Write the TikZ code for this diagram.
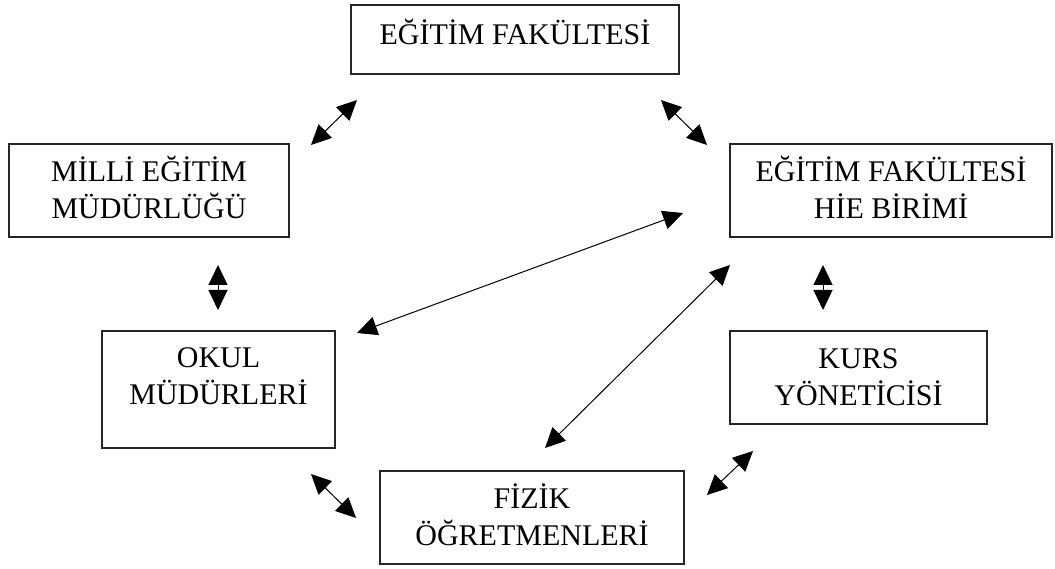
\documentclass[tikz,border=0pt]{standalone}
\usepackage{fontspec}
\setmainfont{Liberation Serif}
\usetikzlibrary{arrows.meta}
\newcommand{\lne}[1]{\rule{0pt}{19.8pt}\smash{#1}}
\begin{document}
\begin{tikzpicture}[x=1pt,y=-1pt,
  box/.style={draw=black!85, line width=1.3pt, inner sep=0pt, align=center,
    font=\fontsize{30}{37}\selectfont},
  biarr/.style={{Triangle[length=20pt,width=19pt]}-{Triangle[length=20pt,width=19pt]}, line width=1pt, black}]
\useasboundingbox (0,0) rectangle (1055,569);
% boxes
\node[box, minimum width=328pt, minimum height=69pt] (ef) at (515,39.5)
  {\lne{EĞİTİM FAKÜLTESİ}\rule[-9pt]{0pt}{9pt}};
\node[box, minimum width=280pt, minimum height=93pt] (mem) at (149,190.5)
  {\lne{MİLLİ EĞİTİM}\\\lne{MÜDÜRLÜĞÜ}};
\node[box, minimum width=322pt, minimum height=93pt] (efhb) at (891,190.5)
  {\lne{EĞİTİM FAKÜLTESİ}\\\lne{HİE BİRİMİ}};
\node[box, minimum width=233pt, minimum height=117pt] (okul) at (218.5,389.5)
  {\lne{OKUL}\\\lne{MÜDÜRLERİ}\\[-10pt]\lne{}};
\node[box, minimum width=257pt, minimum height=93pt] (kurs) at (858.5,377.5)
  {\lne{KURS}\\\lne{YÖNETİCİSİ}};
\node[box, minimum width=304pt, minimum height=93pt] (fizik) at (532,517.5)
  {\lne{FİZİK}\\\lne{ÖĞRETMENLERİ}};
% arrow end points
\coordinate (a1s) at (357,100); \coordinate (a1e) at (311,145);
\coordinate (a2s) at (661,100); \coordinate (a2e) at (707,145);
\coordinate (a3s) at (218,265); \coordinate (a3e) at (218,310);
\coordinate (a4s) at (683,213); \coordinate (a4e) at (357,333);
\coordinate (a5s) at (730,265); \coordinate (a5e) at (545,448);
\coordinate (a6s) at (823,265); \coordinate (a6e) at (823,310);
\coordinate (a7s) at (311,474); \coordinate (a7e) at (356,518);
\coordinate (a8s) at (753,451); \coordinate (a8e) at (707,495);
% connectors
\draw[biarr] (a1s) -- (a1e);
\draw[biarr] (a2s) -- (a2e);
\draw[biarr] (a3s) -- (a3e);
\draw[biarr] (a4s) -- (a4e);
\draw[biarr] (a5s) -- (a5e);
\draw[biarr] (a6s) -- (a6e);
\draw[biarr] (a7s) -- (a7e);
\draw[biarr] (a8s) -- (a8e);
\end{tikzpicture}
\end{document}
